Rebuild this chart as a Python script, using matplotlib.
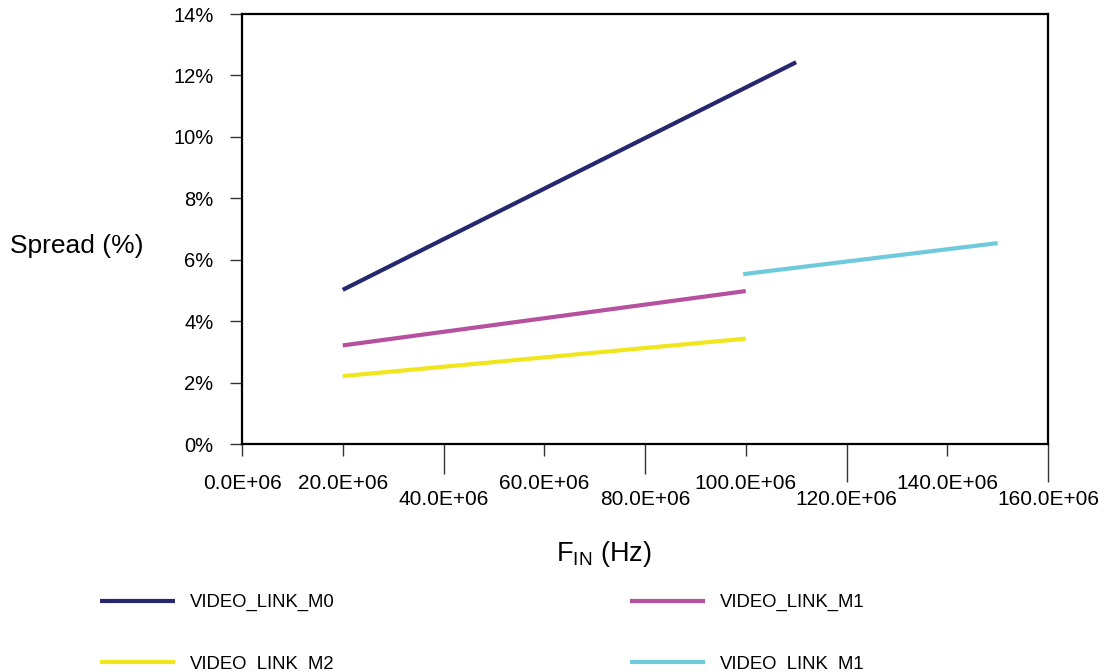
import matplotlib
matplotlib.use("Agg")
import matplotlib.pyplot as plt

# ---- data ----
freq_m0 = [20e6, 110e6]
spread_m0 = [5.02, 12.43]
freq_m1 = [20e6, 100e6]
spread_m1 = [3.21, 4.98]
freq_m2 = [20e6, 100e6]
spread_m2 = [2.21, 3.43]
freq_m1b = [99.5e6, 150e6]
spread_m1b = [5.53, 6.54]

series_labels = ["VIDEO_LINK_M0", "VIDEO_LINK_M1", "VIDEO_LINK_M2", "VIDEO_LINK_M1"]

x_ticks = [0, 20e6, 40e6, 60e6, 80e6, 100e6, 120e6, 140e6, 160e6]
x_tick_labels = ["0.0E+06", "20.0E+06", "40.0E+06", "60.0E+06", "80.0E+06",
                 "100.0E+06", "120.0E+06", "140.0E+06", "160.0E+06"]
y_ticks = [0, 2, 4, 6, 8, 10, 12, 14]
y_tick_labels = ["0%", "2%", "4%", "6%", "8%", "10%", "12%", "14%"]

plt.rcParams["font.family"] = ["Liberation Sans", "DejaVu Sans"]
plt.rcParams["mathtext.fontset"] = "custom"
plt.rcParams["mathtext.rm"] = "Liberation Sans"
plt.rcParams["mathtext.it"] = "Liberation Sans:italic"

fig = plt.figure(figsize=(11.19, 6.72), dpi=100)
ax = fig.add_axes([242 / 1119, 1 - 444 / 672, (1048 - 242) / 1119, (444 - 14) / 672])

c_m0 = "#25276f"
c_m1 = "#b5519f"
c_m2 = "#f1e61c"
c_m1b = "#6fcadb"

lw = 3.0
l0, = ax.plot(freq_m0, spread_m0, color=c_m0, lw=lw, solid_capstyle="butt")
l1, = ax.plot(freq_m1, spread_m1, color=c_m1, lw=lw, solid_capstyle="butt")
l2, = ax.plot(freq_m2, spread_m2, color=c_m2, lw=lw, solid_capstyle="butt")
l3, = ax.plot(freq_m1b, spread_m1b, color=c_m1b, lw=lw, solid_capstyle="butt")

ax.set_xlim(0, 160e6)
ax.set_ylim(0, 14)

for s in ax.spines.values():
    s.set_linewidth(1.6)
    s.set_color("black")

ax.set_xticks(x_ticks)
ax.set_xticklabels(x_tick_labels, fontsize=15)
ax.set_yticks(y_ticks)
ax.set_yticklabels(y_tick_labels, fontsize=14.5)

ax.tick_params(axis="x", direction="out", length=8.6, width=1.0, color="#333333")
ax.tick_params(axis="y", direction="out", length=8.6, width=1.0, color="#333333", pad=12.0)

# staggered x tick labels with varying tick lengths
tick_len_px = [12, 12, 30, 12, 30, 12, 38, 12, 38]
lower_row = [False, False, True, False, True, False, True, False, True]
for tick, L, low in zip(ax.xaxis.get_major_ticks(), tick_len_px, lower_row):
    tick.set_pad(24.6 if low else 13.0)
    tick.tick1line.set_markersize(L / 1.389)

ax.set_xlabel(r"F$_{\mathrm{IN}}$ (Hz)", fontsize=19.5)
ax.xaxis.set_label_coords((604 - 242) / 806, (444 - 539) / 430)

ax.set_ylabel("Spread (%)", fontsize=19, rotation=0, ha="left", va="center")
ax.yaxis.set_label_coords((10 - 242) / 806, (444 - 246) / 430)

fig.legend([l0, l2, l1, l3],
           [series_labels[0], series_labels[2], series_labels[1], series_labels[3]],
           ncol=2, frameon=False, fontsize=13.3,
           loc="upper left", bbox_to_anchor=(100 / 1119, 1 - 594 / 672),
           handlelength=4.05, handletextpad=0.8, columnspacing=16.0,
           labelspacing=2.4, borderaxespad=0, borderpad=0)

fig.savefig("out.png", dpi=100)
